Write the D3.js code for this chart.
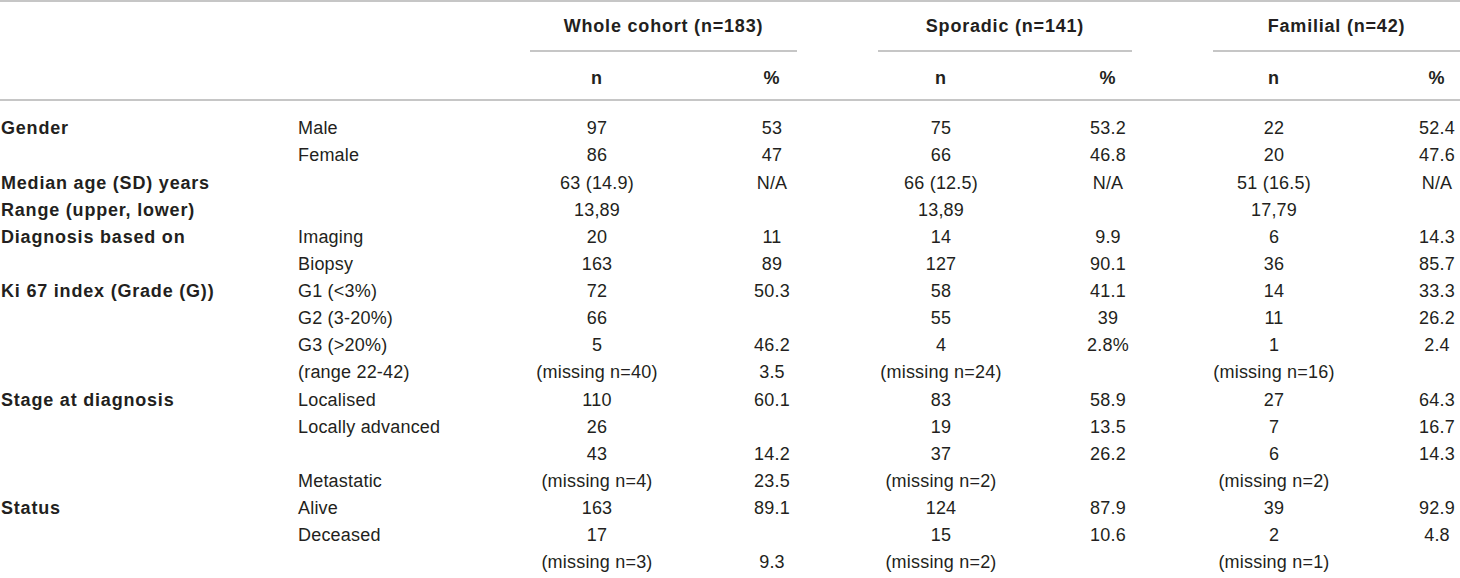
<!DOCTYPE html>
<html>
<head>
<meta charset="utf-8">
<script src="https://cdn.jsdelivr.net/npm/d3@7/dist/d3.min.js"></script>
<style>
  html, body { margin: 0; padding: 0; background: #fff; }
  svg { display: block; }
  text { font-family: "Liberation Sans", Arial, Helvetica, sans-serif; fill: #231f20; }
  .b { font-weight: bold; letter-spacing: 0.8px; }
  .r { letter-spacing: 0.2px; }
</style>
</head>
<body>
<svg id="chart" width="1460" height="578"></svg>
<script>
// ---- data ----
const groups = ["Whole cohort (n=183)", "Sporadic (n=141)", "Familial (n=42)"];
const subHeaders = ["n", "%"];
const rowLabels = ["Gender", "", "Median age (SD) years", "Range (upper, lower)", "Diagnosis based on", "",
  "Ki 67 index (Grade (G))", "", "", "", "Stage at diagnosis", "", "", "", "Status", "", ""];
const subLabels = ["Male", "Female", "", "", "Imaging", "Biopsy", "G1 (<3%)", "G2 (3-20%)", "G3 (>20%)",
  "(range 22-42)", "Localised", "Locally advanced", "", "Metastatic", "Alive", "Deceased", ""];
const wholeN = ["97", "86", "63 (14.9)", "13,89", "20", "163", "72", "66", "5", "(missing n=40)",
  "110", "26", "43", "(missing n=4)", "163", "17", "(missing n=3)"];
const wholePct = ["53", "47", "N/A", "", "11", "89", "50.3", "", "46.2", "3.5",
  "60.1", "", "14.2", "23.5", "89.1", "", "9.3"];
const sporN = ["75", "66", "66 (12.5)", "13,89", "14", "127", "58", "55", "4", "(missing n=24)",
  "83", "19", "37", "(missing n=2)", "124", "15", "(missing n=2)"];
const sporPct = ["53.2", "46.8", "N/A", "", "9.9", "90.1", "41.1", "39", "2.8%", "",
  "58.9", "13.5", "26.2", "", "87.9", "10.6", ""];
const famN = ["22", "20", "51 (16.5)", "17,79", "6", "36", "14", "11", "1", "(missing n=16)",
  "27", "7", "6", "(missing n=2)", "39", "2", "(missing n=1)"];
const famPct = ["52.4", "47.6", "N/A", "", "14.3", "85.7", "33.3", "26.2", "2.4", "",
  "64.3", "16.7", "14.3", "", "92.9", "4.8", ""];

const dataCols = [wholeN, wholePct, sporN, sporPct, famN, famPct];

// ---- layout ----
const svg = d3.select("#chart");
const fs = 18;
const lineColor = "#c6c6c6";

const y = d3.scaleLinear().domain([0, rowLabels.length - 1]).range([128, 562]);
const colX = d3.scaleOrdinal().domain(d3.range(6)).range([597, 772, 941, 1108, 1274, 1437]);
const groupSpan = d3.scaleOrdinal().domain(d3.range(3)).range([[530, 797], [878, 1132], [1213, 1460]]);

// rules
svg.append("line").attr("x1", 0).attr("x2", 1460).attr("y1", 1).attr("y2", 1)
  .attr("stroke", lineColor).attr("stroke-width", 2);
svg.append("line").attr("x1", 0).attr("x2", 1460).attr("y1", 100).attr("y2", 100)
  .attr("stroke", lineColor).attr("stroke-width", 2);

groups.forEach((g, i) => {
  const [a, b] = groupSpan(i);
  svg.append("line").attr("x1", a).attr("x2", b).attr("y1", 51).attr("y2", 51)
    .attr("stroke", lineColor).attr("stroke-width", 2);
  svg.append("text").attr("class", "b").attr("x", (a + b) / 2).attr("y", 26).attr("dy", "0.35em")
    .attr("text-anchor", "middle").attr("font-size", fs).text(g);
  subHeaders.forEach((s, j) => {
    svg.append("text").attr("class", "b").attr("x", colX(i * 2 + j)).attr("y", 78).attr("dy", "0.35em")
      .attr("text-anchor", "middle").attr("font-size", fs).text(s);
  });
});

// row labels
svg.append("g").selectAll("text").data(rowLabels).join("text")
  .attr("class", "b").attr("x", 1).attr("y", (d, i) => y(i)).attr("dy", "0.35em")
  .attr("font-size", fs).text(d => d);

svg.append("g").selectAll("text").data(subLabels).join("text")
  .attr("class", "r").attr("x", 298).attr("y", (d, i) => y(i)).attr("dy", "0.35em")
  .attr("font-size", fs).text(d => d);

dataCols.forEach((col, c) => {
  svg.append("g").selectAll("text").data(col).join("text")
    .attr("class", "r").attr("x", colX(c)).attr("y", (d, i) => y(i)).attr("dy", "0.35em")
    .attr("text-anchor", "middle").attr("font-size", fs).text(d => d);
});
</script>
</body>
</html>
